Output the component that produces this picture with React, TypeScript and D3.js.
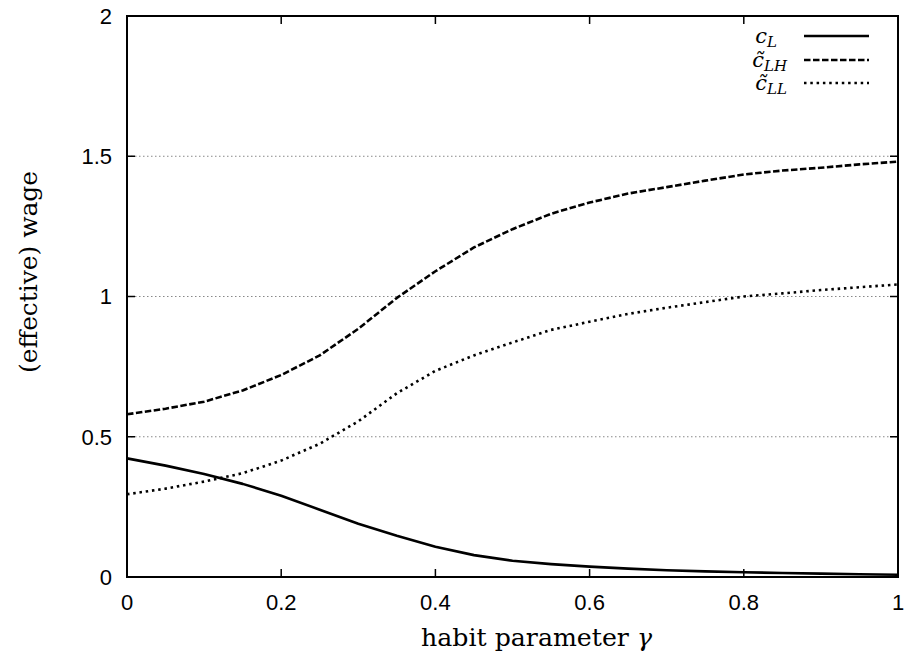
import React from "react";
import * as d3 from "d3";

const gamma = [0, 0.05, 0.1, 0.15, 0.2, 0.25, 0.3, 0.35, 0.4, 0.45, 0.5, 0.55, 0.6, 0.65, 0.7, 0.75, 0.8, 0.85, 0.9, 0.95, 1.0];
const cL = [0.423, 0.397, 0.367, 0.332, 0.29, 0.24, 0.19, 0.147, 0.108, 0.078, 0.058, 0.046, 0.037, 0.03, 0.024, 0.02, 0.017, 0.014, 0.012, 0.01, 0.008];
const cLH = [0.58, 0.6, 0.625, 0.665, 0.72, 0.79, 0.885, 0.995, 1.09, 1.175, 1.24, 1.295, 1.335, 1.367, 1.39, 1.413, 1.435, 1.449, 1.459, 1.471, 1.481];
const cLL = [0.295, 0.315, 0.34, 0.37, 0.415, 0.475, 0.555, 0.655, 0.735, 0.79, 0.836, 0.881, 0.91, 0.938, 0.96, 0.98, 1.0, 1.011, 1.023, 1.033, 1.043];

const xTicks = [0, 0.2, 0.4, 0.6, 0.8, 1];
const yTicks = [0, 0.5, 1, 1.5, 2];
const xTickLabels = ["0", "0.2", "0.4", "0.6", "0.8", "1"];
const yTickLabels = ["0", "0.5", "1", "1.5", "2"];

const left = 127, right = 898, top = 16, bottom = 577;

export default function App() {
  const x = d3.scaleLinear().domain([0, 1]).range([left, right]);
  const y = d3.scaleLinear().domain([0, 2]).range([bottom, top]);
  const mk = (vals: number[]) =>
    d3.line<number>().x((_, i) => x(gamma[i])).y((v) => y(v))(vals) || "";

  const series = [
    { vals: cL, dash: "none" },
    { vals: cLH, dash: "6.5,2.5" },
    { vals: cLL, dash: "2.5,3.8" },
  ];
  const legendRows = [
    { base: "c", sub: "L", dash: "none", ly: 36, tx: 777 },
    { base: "c\u0303", sub: "LH", dash: "6.5,2.5", ly: 60, tx: 787 },
    { base: "c\u0303", sub: "LL", dash: "2.5,3.8", ly: 83, tx: 787 },
  ];
  const tickLen = 8;
  const serif = "DejaVu Serif";
  const sans = "Liberation Sans";

  return (
    <svg width={905} height={657} style={{ position: "absolute", left: 0, top: 0, background: "#fff" }}>
      <rect x={0} y={0} width={905} height={657} fill="#fff" />
      {yTicks.filter((t) => t > 0 && t < 2).map((t) => (
        <line key={"g" + t} x1={left} x2={right} y1={y(t)} y2={y(t)} stroke="#888" strokeWidth={1} strokeDasharray="1.5,2.5" />
      ))}
      {yTicks.map((t) => (
        <g key={"yt" + t}>
          <line x1={left} x2={left + tickLen} y1={y(t)} y2={y(t)} stroke="#000" strokeWidth={1.5} />
          <line x1={right} x2={right - tickLen} y1={y(t)} y2={y(t)} stroke="#000" strokeWidth={1.5} />
        </g>
      ))}
      {xTicks.map((t) => (
        <g key={"xt" + t}>
          <line x1={x(t)} x2={x(t)} y1={bottom} y2={bottom - tickLen} stroke="#000" strokeWidth={1.5} />
          <line x1={x(t)} x2={x(t)} y1={top} y2={top + tickLen} stroke="#000" strokeWidth={1.5} />
        </g>
      ))}
      {yTicks.map((t, i) => (
        <text key={"yl" + t} x={112} y={y(t)} dy="0.36em" textAnchor="end" style={{ fontFamily: sans }} fontSize={22}>
          {yTickLabels[i]}
        </text>
      ))}
      {xTicks.map((t, i) => (
        <text key={"xl" + t} x={x(t)} y={610} textAnchor="middle" style={{ fontFamily: sans }} fontSize={22}>
          {xTickLabels[i]}
        </text>
      ))}
      {series.map((s, i) => (
        <path key={"s" + i} d={mk(s.vals)} fill="none" stroke="#000" strokeWidth={2.6} strokeDasharray={s.dash} strokeLinejoin="round" />
      ))}
      {legendRows.map((r, i) => (
        <g key={"lg" + i}>
          <line x1={804} x2={869} y1={r.ly} y2={r.ly} stroke="#000" strokeWidth={2.6} strokeDasharray={r.dash} />
          <text x={r.tx} y={r.ly + 7} textAnchor="end" style={{ fontFamily: serif }} fontStyle="italic" fontSize={21}>
            <tspan>{r.base}</tspan>
            <tspan fontSize={15} dy={4}>{r.sub}</tspan>
          </text>
        </g>
      ))}
      <rect x={left} y={top} width={right - left} height={bottom - top} fill="none" stroke="#000" strokeWidth={2} />
      <text x={421} y={646} textAnchor="start" style={{ fontFamily: serif }} fontSize={25} textLength={231} lengthAdjust="spacingAndGlyphs">
        habit parameter <tspan fontStyle="italic">γ</tspan>
      </text>
      <text transform={`translate(37, 373) rotate(-90)`} textAnchor="start" style={{ fontFamily: serif }} fontSize={25} textLength={202} lengthAdjust="spacingAndGlyphs">
        (effective) wage
      </text>
    </svg>
  );
}
